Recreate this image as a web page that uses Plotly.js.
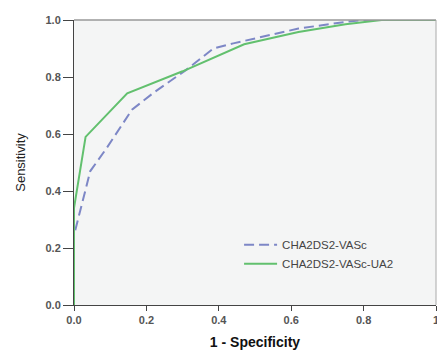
<!DOCTYPE html>
<html>
<head>
<meta charset="utf-8">
<script src="https://cdn.plot.ly/plotly-3.0.1.min.js"></script>
<style>html,body{margin:0;padding:0;background:#fff;}#chart{width:437px;height:351px;}</style>
</head>
<body>
<div id="chart"></div>
<script>
var seriesNames = ["CHA2DS2-VASc", "CHA2DS2-VASc-UA2"];
var vascX = [0, 0, 0.045, 0.09, 0.16, 0.22, 0.31, 0.385, 0.44, 0.62, 0.76, 0.80, 1];
var vascY = [0, 0.245, 0.47, 0.55, 0.685, 0.745, 0.825, 0.90, 0.918, 0.97, 0.995, 1, 1];
var ua2X = [0, 0, 0.032, 0.147, 0.30, 0.38, 0.47, 0.62, 0.75, 0.85, 1];
var ua2Y = [0, 0.34, 0.59, 0.743, 0.82, 0.865, 0.915, 0.958, 0.985, 1, 1];
var tickVals = [0, 0.2, 0.4, 0.6, 0.8, 1];
var xTickText = ["0.0", "0.2", "0.4", "0.6", "0.8", "1"];
var yTickText = ["0.0", "0.2", "0.4", "0.6", "0.8", "1.0"];

var traces = [
  {x: vascX, y: vascY, name: seriesNames[0], type: "scatter", mode: "lines",
   line: {color: "#7d87c6", width: 2, dash: "10px,5px"}},
  {x: ua2X, y: ua2Y, name: seriesNames[1], type: "scatter", mode: "lines",
   line: {color: "#62c06e", width: 2}}
];
var tickFont = {family: "Liberation Sans, Arial, sans-serif", size: 11, color: "#555", weight: "bold"};
var layout = {
  width: 437, height: 351,
  margin: {l: 74, r: 1, t: 20, b: 46},
  paper_bgcolor: "#ffffff",
  plot_bgcolor: "#f4f5f5",
  showlegend: true,
  legend: {x: 0.456, y: 0.262, xanchor: "left", yanchor: "top", bgcolor: "rgba(0,0,0,0)",
    itemwidth: 33, font: {family: "Liberation Sans, Arial, sans-serif", size: 11.5, color: "#444"}},
  xaxis: {range: [0, 1], tickvals: tickVals, ticktext: xTickText, ticks: "outside", ticklen: 5,
    tickcolor: "#444", showgrid: false, zeroline: false, showline: true, linecolor: "#444", linewidth: 1,
    tickfont: tickFont, fixedrange: true, ticklabeloverflow: "allow",
    title: {text: "1 - Specificity", font: {family: "Liberation Sans, Arial, sans-serif", size: 14, color: "#111", weight: "bold"}, standoff: 11}},
  yaxis: {range: [0, 1], tickvals: tickVals, ticktext: yTickText, ticks: "outside", ticklen: 10,
    tickcolor: "#444", showgrid: false, zeroline: false, showline: true, linecolor: "#444", linewidth: 1,
    tickfont: tickFont, fixedrange: true,
    title: {text: "Sensitivity", font: {family: "Liberation Sans, Arial, sans-serif", size: 13, color: "#222"}, standoff: 16}},
  shapes: [
    {type: "line", xref: "paper", yref: "paper", x0: 0, x1: 1, y0: 1, y1: 1, line: {color: "#999", width: 1.5}},
    {type: "line", xref: "paper", yref: "paper", x0: 1, x1: 1, y0: 0, y1: 1, line: {color: "#aaa", width: 1}}
  ]
};
Plotly.newPlot("chart", traces, layout, {staticPlot: true, displayModeBar: false});
</script>
</body>
</html>
